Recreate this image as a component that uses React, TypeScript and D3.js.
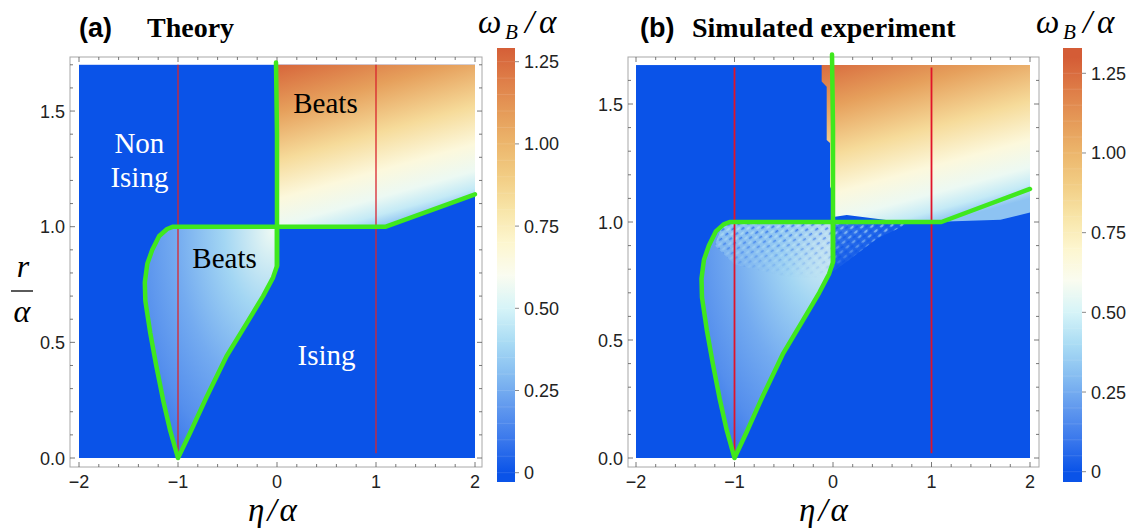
import React from 'react';
import * as d3 from 'd3';

const W = 1135;
const H = 529;
const SERIF = '"Liberation Serif", "Times New Roman", serif';
const SANS = '"Liberation Sans", Arial, sans-serif';

// axes
const etaTicks = [-2, -1, 0, 1, 2];
const etaTickLabels = ['\u22122', '\u22121', '0', '1', '2'];
const rTicks = [0, 0.5, 1.0, 1.5];
const rTickLabels = ['0.0', '0.5', '1.0', '1.5'];
const cbTicks = [0, 0.25, 0.5, 0.75, 1.0, 1.25];
const cbTickLabels = ['0', '0.25', '0.50', '0.75', '1.00', '1.25'];

// colour map (ω_B/α -> colour)
const cmapValues = [0, 0.1, 0.2, 0.3, 0.4, 0.5, 0.6, 0.7, 0.8, 0.9, 1.0, 1.1, 1.2, 1.3];
const cmapColors = ['#0a53e8', '#3a78ec', '#6199ee', '#86bdf1', '#aadcf4', '#d6f4f8', '#fafcf0',
  '#fdf6cf', '#f8e5a8', '#f2cd84', '#ecb66c', '#e59a58', '#de7c47', '#d45c36'];

// phase boundaries, (η/α, r/α)
const lobe = [[-1, 0], [-1.08, 0.12], [-1.15, 0.25], [-1.22, 0.4], [-1.28, 0.54], [-1.33, 0.68],
  [-1.335, 0.76], [-1.31, 0.84], [-1.26, 0.9], [-1.19, 0.96], [-1.11, 0.99], [-1.05, 1.0], [0, 1.0],
  [0, 0.83], [-0.04, 0.78], [-0.14, 0.7], [-0.31, 0.58], [-0.51, 0.44], [-0.71, 0.265], [-0.88, 0.107], [-1, 0]];
const ridge = [[0, 1.0], [1.1, 1.0], [2, 1.14]];
const wall = [[-0.01, 1.71], [0, 1.4], [0, 0.83]];
const probeEta = [-1, 1];

// regions with ω_B > 0 above r = α
const upperTheory = [[0, 1.7], [2, 1.7], [2, 1.14], [1.1, 1.0], [0, 1.0]];
const upperSim = [[-0.115, 1.665], [2, 1.665], [2, 1.04], [1.7, 1.01], [1.0, 1.0], [0.6, 1.005], [0.14, 1.03],
  [0.02, 1.022], [-0.01, 1.04], [-0.013, 1.135], [-0.03, 1.15], [-0.03, 1.335], [-0.064, 1.347],
  [-0.064, 1.573], [-0.115, 1.595]];
// noisy band of the simulation just under r = α
const noisyBand = [[-1.12, 0.99], [-1.05, 1.0], [0.8, 1.0], [0.45, 0.93], [0.1, 0.82], [-0.1, 0.76],
  [-0.5, 0.77], [-1.0, 0.82], [-1.2, 0.9]];

// ω_B/α along the gradient directions
const upperOffsets = [0, 0.25, 0.5, 0.7, 0.84, 0.93, 1];
const upperValues = [1.27, 1.08, 0.84, 0.66, 0.56, 0.46, 0.32];
const lobeOffsets = [0, 0.3, 0.6, 0.85, 1];
const lobeValues = [0.56, 0.38, 0.25, 0.17, 0.1];
const bandOffsets = [0, 0.55, 1];
const bandValues = [0.34, 0.28, 0.15];

// labels of panel (a)
const regionLabels = [
  { text: 'Beats', eta: 0.49, r: 1.49, fill: '#000' },
  { text: 'Non', eta: -1.39, r: 1.32, fill: '#fff' },
  { text: 'Ising', eta: -1.39, r: 1.17, fill: '#fff' },
  { text: 'Beats', eta: -0.53, r: 0.82, fill: '#000' },
  { text: 'Ising', eta: 0.5, r: 0.4, fill: '#fff' },
];

const cmap = d3.scaleLinear<string>().domain(cmapValues).range(cmapColors).clamp(true);

type Cfg = {
  id: string;
  xRange: [number, number];
  yRange: [number, number];
  frame: { l: number; r: number; t: number; b: number };
  rTop: number;
  redTop: number;
  upper: number[][];
  cb: { x: number; w: number; t: number; b: number; v0: number; v125: number };
  tag: string;
  title: string;
  tagX: number;
  titleX: number;
  omegaX: number;
  xLabelX: number;
  yLabel: boolean;
  labels: boolean;
  noisy: boolean;
  red: string;
  redW: number;
};

const panels: Cfg[] = [
  {
    id: 'a', xRange: [79, 475], yRange: [458, 226.7], frame: { l: 70, r: 482, t: 57, b: 467 },
    rTop: 1.7, redTop: 1.7, upper: upperTheory,
    cb: { x: 497, w: 18, t: 48, b: 482, v0: 472.7, v125: 61.7 },
    tag: '(a)', title: 'Theory', tagX: 79, titleX: 147, omegaX: 478, xLabelX: 274,
    yLabel: true, labels: true, noisy: false, red: '#d8262e', redW: 1.3,
  },
  {
    id: 'b', xRange: [636, 1030], yRange: [458, 222], frame: { l: 628, r: 1039, t: 57, b: 467 },
    rTop: 1.665, redTop: 1.655, upper: upperSim,
    cb: { x: 1063, w: 19, t: 48, b: 482, v0: 471.7, v125: 73.3 },
    tag: '(b)', title: 'Simulated experiment', tagX: 640, titleX: 692, omegaX: 1036, xLabelX: 825,
    yLabel: false, labels: false, noisy: true, red: '#e0142a', redW: 1.8,
  },
];

function Panel({ c }: { c: Cfg }) {
  const x = d3.scaleLinear().domain([-2, 2]).range(c.xRange);
  const y = d3.scaleLinear().domain([0, 1]).range(c.yRange);
  const cbY = d3.scaleLinear().domain([0, 1.25]).range([c.cb.v0, c.cb.v125]);
  const line = d3.line<number[]>().x(d => x(d[0])).y(d => y(d[1]));
  const poly = (pts: number[][]) => line(pts) + 'Z';
  const { l, r, t, b } = c.frame;

  // gradient geometry
  const ug = { x1: x(0), y1: y(1.7), x2: x(0.5), y2: y(0.93) };
  const lc = { cx: x(-0.05), cy: y(0.98) };

  const xMinor = d3.range(-2, 2.001, 0.2);
  const yMinor = d3.range(0, 1.75, 0.1).filter(v => y(v) > t + 2);
  const cbMinor = d3.range(0, 1.3, 0.05).filter(v => cbY(v) > c.cb.t + 1);
  const green = '#3fe81d';

  return (
    <g>
      <defs>
        <linearGradient id={`ug-${c.id}`} gradientUnits="userSpaceOnUse" {...ug}>
          {upperOffsets.map((o, i) => (
            <stop key={i} offset={o} stopColor={cmap(upperValues[i])} />
          ))}
        </linearGradient>
        <radialGradient id={`lg-${c.id}`} gradientUnits="userSpaceOnUse" cx={lc.cx} cy={lc.cy} r={160}
          gradientTransform={`translate(${lc.cx} ${lc.cy}) scale(1 1.7) translate(${-lc.cx} ${-lc.cy})`}>
          {lobeOffsets.map((o, i) => (
            <stop key={i} offset={o} stopColor={cmap(lobeValues[i])} />
          ))}
        </radialGradient>
        <linearGradient id={`cb-${c.id}`} gradientUnits="userSpaceOnUse" x1={0} x2={0} y1={cbY(0)} y2={cbY(1.3)}>
          {cmapValues.map((v, i) => (
            <stop key={i} offset={v / 1.3} stopColor={cmapColors[i]} />
          ))}
        </linearGradient>
        {c.noisy && (
          <>
            <linearGradient id={`nb-${c.id}`} gradientUnits="userSpaceOnUse" x1={x(-1.1)} y1={y(1)} x2={x(0.8)} y2={y(0.9)}>
              {bandOffsets.map((o, i) => (
                <stop key={i} offset={o} stopColor={cmap(bandValues[i])} stopOpacity={0.9 - 0.8 * o} />
              ))}
            </linearGradient>
            <pattern id={`sp-${c.id}`} patternUnits="userSpaceOnUse" width={8} height={6} patternTransform="rotate(-40)">
              <ellipse cx={2.5} cy={1.8} rx={2.4} ry={1.1} fill={cmap(0.45)} opacity={0.85} />
              <ellipse cx={6.3} cy={4.6} rx={2.1} ry={1.0} fill={cmap(0.0)} opacity={0.85} />
            </pattern>
            <linearGradient id={`fade-${c.id}`} gradientUnits="userSpaceOnUse" x1={0} x2={0} y1={y(0.97)} y2={y(0.76)}>
              <stop offset={0} stopColor="#fff" />
              <stop offset={1} stopColor="#000" />
            </linearGradient>
            <mask id={`mk-${c.id}`}>
              <rect x={x(-2)} y={y(1.05)} width={x(2) - x(-2)} height={y(0.7) - y(1.05)} fill={`url(#fade-${c.id})`} />
            </mask>
          </>
        )}
      </defs>

      {/* title */}
      <text x={c.tagX} y={37} fontFamily={SANS} fontWeight="bold" fontSize={27}>{c.tag}</text>
      <text x={c.titleX} y={37} fontFamily={SERIF} fontWeight="bold" fontSize={28}>{c.title}</text>

      {/* heat map */}
      <rect x={x(-2)} y={y(c.rTop)} width={x(2) - x(-2)} height={y(0) - y(c.rTop)} fill={cmap(0)} />
      <path d={poly(c.upper)} fill={`url(#ug-${c.id})`} />
      <path d={poly(lobe)} fill={`url(#lg-${c.id})`} />
      {c.noisy && (
        <g mask={`url(#mk-${c.id})`}>
          <path d={poly(noisyBand)} fill={`url(#nb-${c.id})`} />
          <path d={poly(noisyBand)} fill={`url(#sp-${c.id})`} opacity={0.75} />
        </g>
      )}

      {/* frame */}
      <rect x={l} y={t} width={r - l} height={b - t} fill="none" stroke="#a8a8a8" strokeWidth={1} />
      {xMinor.map((v, i) => {
        const major = etaTicks.some(m => Math.abs(m - v) < 1e-6);
        const len = major ? 5 : 3;
        return (
          <g key={i} stroke="#555" strokeWidth={0.8}>
            <line x1={x(v)} x2={x(v)} y1={b} y2={b - len} />
            <line x1={x(v)} x2={x(v)} y1={t} y2={t + len} />
          </g>
        );
      })}
      {yMinor.map((v, i) => {
        const major = rTicks.some(m => Math.abs(m - v) < 1e-6);
        const len = major ? 5 : 3;
        return (
          <g key={i} stroke="#555" strokeWidth={0.8}>
            <line x1={l} x2={l + len} y1={y(v)} y2={y(v)} />
            <line x1={r} x2={r - len} y1={y(v)} y2={y(v)} />
          </g>
        );
      })}

      {/* probe lines and boundaries */}
      {probeEta.map((e, i) => (
        <line key={i} x1={x(e)} x2={x(e)} y1={y(c.redTop)} y2={y(e < 0 ? 0 : 0.02)} stroke={c.red} strokeWidth={c.redW} />
      ))}
      <g fill="none" stroke={green} strokeWidth={4.5} strokeLinejoin="round" strokeLinecap="round">
        <path d={line(lobe) || ''} />
        <path d={line(ridge) || ''} />
        <path d={line(wall) || ''} />
      </g>

      {c.labels && regionLabels.map((d, i) => (
        <text key={i} x={x(d.eta)} y={y(d.r)} textAnchor="middle" fontFamily={SERIF} fontSize={29} fill={d.fill}>{d.text}</text>
      ))}

      {/* tick labels */}
      {etaTicks.map((v, i) => (
        <text key={i} x={x(v)} y={488} textAnchor="middle" fontFamily={SANS} fontSize={18} fill="#222">{etaTickLabels[i]}</text>
      ))}
      {rTicks.map((v, i) => (
        <text key={i} x={l - 5} y={y(v) + 6.5} textAnchor="end" fontFamily={SANS} fontSize={18} fill="#222">{rTickLabels[i]}</text>
      ))}

      {/* axis labels */}
      <text x={c.xLabelX} y={521} textAnchor="middle" fontFamily={SERIF} fontStyle="italic" fontSize={33} letterSpacing={3}>η/α</text>
      {c.yLabel && (
        <g fontFamily={SERIF} fontStyle="italic" fontSize={32} textAnchor="middle">
          <text x={23} y={277}>r</text>
          <line x1={11} x2={33} y1={291} y2={291} stroke="#000" strokeWidth={1.3} />
          <text x={22} y={322}>α</text>
        </g>
      )}

      {/* colour bar */}
      <rect x={c.cb.x} y={c.cb.t} width={c.cb.w} height={c.cb.b - c.cb.t} fill={`url(#cb-${c.id})`} />
      {cbMinor.map((v, i) => (
        <line key={i} x1={c.cb.x} x2={c.cb.x + c.cb.w} y1={cbY(v)} y2={cbY(v)} stroke="#fff" strokeOpacity={0.12} />
      ))}
      {cbTicks.map((v, i) => (
        <g key={i}>
          <line x1={c.cb.x + c.cb.w} x2={c.cb.x + c.cb.w + 4} y1={cbY(v)} y2={cbY(v)} stroke="#888" />
          <text x={c.cb.x + c.cb.w + 9} y={cbY(v) + 6.5} fontFamily={SANS} fontSize={18} fill="#222">{cbTickLabels[i]}</text>
        </g>
      ))}
      <g fontFamily={SERIF} fontStyle="italic">
        <text x={c.omegaX} y={33} fontSize={33}>ω</text>
        <text x={c.omegaX + 27} y={39} fontSize={21}>B</text>
        <text x={c.omegaX + 47} y={33} fontSize={33}>/</text>
        <text x={c.omegaX + 61} y={33} fontSize={33}>α</text>
      </g>
    </g>
  );
}

export default function App() {
  return (
    <div style={{ position: 'absolute', left: 0, top: 0 }}>
      <svg width={W} height={H} viewBox={`0 0 ${W} ${H}`} style={{ display: 'block', background: '#fff' }}>
        {panels.map(p => <Panel key={p.id} c={p} />)}
      </svg>
    </div>
  );
}
